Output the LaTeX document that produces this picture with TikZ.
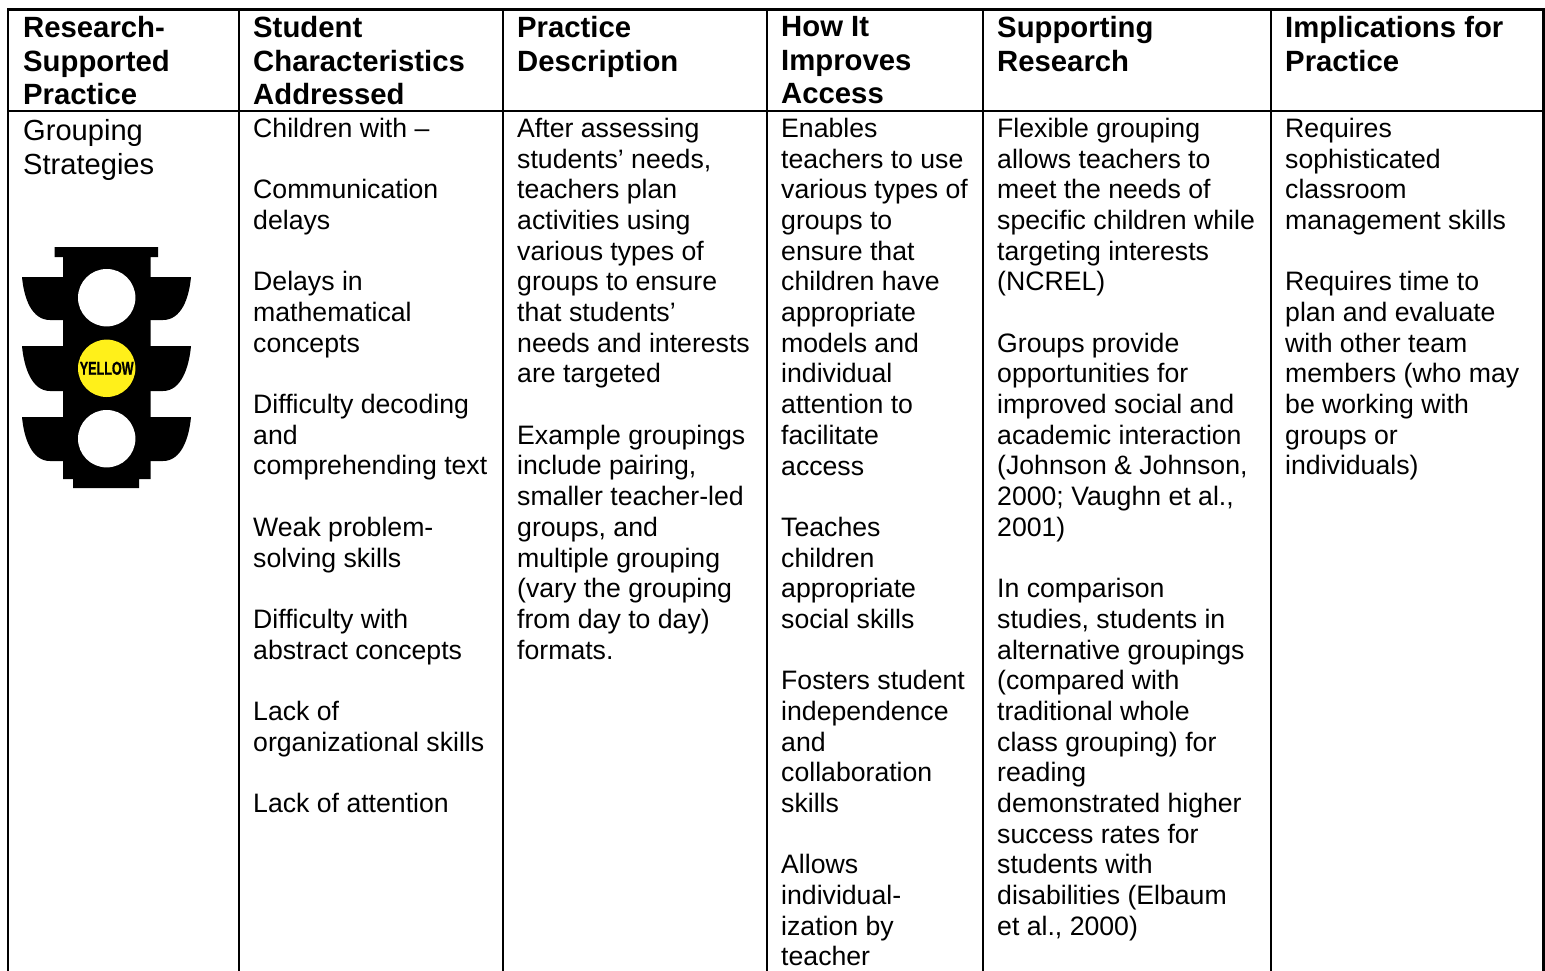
\documentclass[tikz,border=0pt]{standalone}
\usepackage{fontspec}
\setmainfont{Liberation Sans}
\newfontfamily\signfont[FakeBold=1.2]{Liberation Sans Bold}
\tikzset{
  rulel/.style={line width=2.4pt,black},
  cell/.style={anchor=north west,inner sep=0pt,align=left,font=\fontsize{26.65}{30.68}\selectfont,execute at begin node=\rule{0pt}{20pt}},
  headcell/.style={anchor=north west,inner sep=0pt,align=left,font=\fontsize{29.3}{33.4}\selectfont\bfseries,execute at begin node=\rule{0pt}{20pt}},
  namecell/.style={anchor=north west,inner sep=0pt,align=left,font=\fontsize{29.1}{33.9}\selectfont,execute at begin node=\rule{0pt}{20pt}},
  lamp/.style={circle,inner sep=0pt,minimum size=57.4pt,fill=white},
}
\newcommand{\blank}{\\[30.68pt]}
\begin{document}
\begin{tikzpicture}[x=1pt,y=-1pt]
\useasboundingbox (0,0) rectangle (1545,971);
% grid
\draw[rulel] (8,971) -- (8,9.5) -- (1543.3,9.5) -- (1543.3,971);
\draw[rulel] (8,111) -- (1543.3,111);
\foreach \c in {239,503,767,983,1271} \draw[rulel] (\c,9.5) -- (\c,971);
% header
\node[headcell] (h1) at (23,16.5) {Research-\\Supported\\Practice};
\node[headcell] (h2) at (253,16.5) {Student\\Characteristics\\Addressed};
\node[headcell] (h3) at (517,16.5) {Practice\\Description};
\node[headcell] (h4) at (781,16.5) {How It\\Improves\\Access};
\node[headcell] (h5) at (997,16.5) {Supporting\\Research};
\node[headcell] (h6) at (1285,16.5) {Implications for\\Practice};
% body
\node[namecell] (c1) at (23,119) {Grouping\\Strategies};
\node[cell] (c2) at (253,118) {Children with –\blank Communication\\delays\blank Delays in\\mathematical\\concepts\blank Difficulty decoding\\and\\comprehending text\blank Weak problem-\\solving skills\blank Difficulty with\\abstract concepts\blank Lack of\\organizational skills\blank Lack of attention};
\node[cell] (c3) at (517,118) {After assessing\\students’ needs,\\teachers plan\\activities using\\various types of\\groups to ensure\\that students’\\needs and interests\\are targeted\blank Example groupings\\include pairing,\\smaller teacher-led\\groups, and\\multiple grouping\\(vary the grouping\\from day to day)\\formats.};
\node[cell] (c4) at (781,118) {Enables\\teachers to use\\various types of\\groups to\\ensure that\\children have\\appropriate\\models and\\individual\\attention to\\facilitate\\access\blank Teaches\\children\\appropriate\\social skills\blank Fosters student\\independence\\and\\collaboration\\skills\blank Allows\\individual-\\ization by\\teacher};
\node[cell] (c5) at (997,118) {Flexible grouping\\allows teachers to\\meet the needs of\\specific children while\\targeting interests\\(NCREL)\blank Groups provide\\opportunities for\\improved social and\\academic interaction\\(Johnson \& Johnson,\\2000; Vaughn et al.,\\2001)\blank In comparison\\studies, students in\\alternative groupings\\(compared with\\traditional whole\\class grouping) for\\reading\\demonstrated higher\\success rates for\\students with\\disabilities (Elbaum\\et al., 2000)};
\node[cell] (c6) at (1285,118) {Requires\\sophisticated\\classroom\\management skills\blank Requires time to\\plan and evaluate\\with other team\\members (who may\\be working with\\groups or\\individuals)};
% traffic light
\fill[black] (54.5,247) -- (158,247) -- (158,257) -- (150.5,257) -- (150.5,479) -- (139,479) -- (139,488) -- (73,488) -- (73,479) -- (63,479) -- (63,257) -- (54.5,257) -- cycle;
\foreach \t/\b in {277/320,346/391,417/461}{
  \fill[black] (64,\t) -- (22,\t) .. controls (24,{\t+22}) and (32,\b) .. (50,\b) -- (64,\b) -- cycle;
  \fill[black] (150,\t) -- (191,\t) .. controls (189,{\t+22}) and (181,\b) .. (163,\b) -- (150,\b) -- cycle;
}
\node[lamp] (l1) at (106.7,297.7) {};
\node[lamp,fill={rgb,255:red,255;green,240;blue,26}] (l2) at (106.7,368.3) {};
\node[lamp] (l3) at (106.7,438.7) {};
\node[inner sep=0pt] (yl) at (106.7,368.3) {\scalebox{0.68}[1]{\fontsize{18.5}{18.5}\signfont YELLOW}};
\end{tikzpicture}
\end{document}
